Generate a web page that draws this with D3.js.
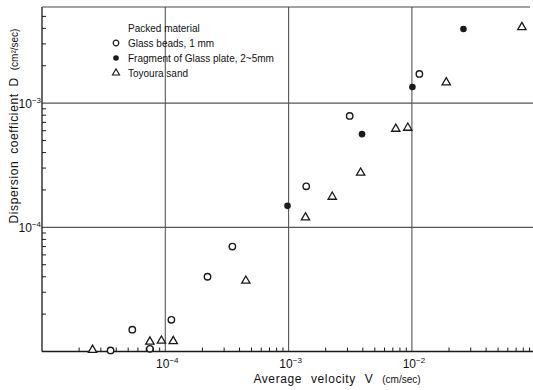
<!DOCTYPE html>
<html>
<head>
<meta charset="utf-8">
<script src="https://cdn.jsdelivr.net/npm/d3@7"></script>
<style>
body { margin: 0; background: #fff; }
text { font-family: "Liberation Sans", Arial, sans-serif; fill: #111; }
</style>
</head>
<body>
<div class="canvas"></div>
<script>
// Glass beads, 1 mm  (open circles)
const beadsV = [3.6e-5, 5.4e-5, 7.5e-5, 1.12e-4, 2.2e-4, 3.5e-4, 1.39e-3, 3.13e-3, 1.15e-2]
const beadsD = [1.02e-5, 1.5e-5, 1.05e-5, 1.8e-5, 4.0e-5, 7.0e-5, 2.14e-4, 7.9e-4, 1.72e-3]

// Fragment of glass plate, 2~5mm  (filled dots)
const plateV = [9.8e-4, 3.94e-3, 1.01e-2, 2.62e-2]
const plateD = [1.49e-4, 5.63e-4, 1.35e-3, 3.96e-3]

// Toyoura sand  (triangles)
const sandV = [2.57e-5, 7.5e-5, 9.3e-5, 1.16e-4, 4.5e-4, 1.37e-3, 2.26e-3, 3.84e-3, 7.4e-3, 9.26e-3, 1.9e-2, 7.8e-2]
const sandD = [1.03e-5, 1.2e-5, 1.22e-5, 1.21e-5, 3.71e-5, 1.2e-4, 1.76e-4, 2.75e-4, 6.21e-4, 6.33e-4, 1.47e-3, 4.09e-3]

const xTicks = [1e-4, 1e-3, 1e-2]
const xTickExp = ["−4", "−3", "−2"]
const yTicks = [1e-4, 1e-3]
const yTickExp = ["−4", "−3"]

const legendTitle = "Packed material"
const legendKeys = ["Glass beads, 1 mm", "Fragment of Glass plate, 2~5mm", "Toyoura sand"]

const svg = d3.select(".canvas")
            .append("svg")
            .attr('width', 533)
            .attr('height', 390)

// plot frame
const plotLeft = 42, plotRight = 533, plotTop = 7, plotBottom = 351.5

const xScale = d3.scaleLog()
    .domain([1e-5, 1e-1])
    .range([42, 535.2])

const yScale = d3.scaleLog()
    .domain([1e-5, 1e-2])
    .range([351.5, -21])

const ink = '#1a1a1a'
const grid = '#555'

// minor ticks, 2..9 of every decade
const minorX = []
for (let e = -5; e < -1; e++) for (let k = 2; k <= 9; k++) minorX.push(k * Math.pow(10, e))
const minorY = []
for (let e = -5; e < -2; e++) for (let k = 2; k <= 9; k++) {
    const v = k * Math.pow(10, e)
    if (yScale(v) > plotTop + 3) minorY.push(v)
}

svg.append('g').selectAll('line').data(minorX.filter(v => xScale(v) < plotRight)).enter()
    .append('line')
    .attr('x1', d => xScale(d)).attr('x2', d => xScale(d))
    .attr('y1', plotBottom).attr('y2', plotBottom - 4)
    .attr('stroke', ink).attr('stroke-width', 1)

svg.append('g').selectAll('line').data(minorY).enter()
    .append('line')
    .attr('x1', plotLeft).attr('x2', plotLeft + 4)
    .attr('y1', d => yScale(d)).attr('y2', d => yScale(d))
    .attr('stroke', ink).attr('stroke-width', 1)

// gridlines at the decades
svg.append('g').selectAll('line').data(xTicks).enter()
    .append('line')
    .attr('x1', d => xScale(d)).attr('x2', d => xScale(d))
    .attr('y1', plotTop).attr('y2', plotBottom)
    .attr('stroke', grid).attr('stroke-width', 1.1)

svg.append('g').selectAll('line').data(yTicks).enter()
    .append('line')
    .attr('x1', plotLeft).attr('x2', plotRight)
    .attr('y1', d => yScale(d)).attr('y2', d => yScale(d))
    .attr('stroke', grid).attr('stroke-width', 1.1)

// frame
svg.append('line').attr('x1', plotLeft).attr('x2', plotLeft).attr('y1', plotTop).attr('y2', plotBottom)
    .attr('stroke', ink).attr('stroke-width', 1.3)
svg.append('line').attr('x1', plotLeft).attr('x2', plotRight).attr('y1', plotBottom).attr('y2', plotBottom)
    .attr('stroke', ink).attr('stroke-width', 1.3)
svg.append('line').attr('x1', plotLeft).attr('x2', 530).attr('y1', plotTop).attr('y2', plotTop)
    .attr('stroke', '#444').attr('stroke-width', 1)

// tick labels
const xl = svg.append('g').selectAll('text').data(xTicks).enter()
    .append('text')
    .attr('x', d => xScale(d) + 2)
    .attr('y', 368)
    .attr('text-anchor', 'middle')
    .attr('font-size', 12)
xl.append('tspan').text('10')
xl.append('tspan').attr('dy', -5).attr('font-size', 8).text((d, i) => xTickExp[i])

const yl = svg.append('g').selectAll('text').data(yTicks).enter()
    .append('text')
    .attr('x', 41)
    .attr('y', d => yScale(d) + 5)
    .attr('text-anchor', 'end')
    .attr('font-size', 12)
yl.append('tspan').text('10')
yl.append('tspan').attr('dy', -5).attr('font-size', 8).text((d, i) => yTickExp[i])

// axis titles
const xTitle = svg.append('text')
    .attr('x', 337).attr('y', 383)
    .attr('text-anchor', 'middle')
    .attr('font-size', 12)
    .attr('letter-spacing', 0.6)
    .attr('word-spacing', 5)
xTitle.append('tspan').text('Average velocity V ')
xTitle.append('tspan').attr('font-size', 10).attr('letter-spacing', 0).text('(cm/sec)')

const yTitle = svg.append('text')
    .attr('transform', 'translate(18,126) rotate(-90)')
    .attr('text-anchor', 'middle')
    .attr('font-size', 12)
    .attr('letter-spacing', 0.6)
    .attr('word-spacing', 3)
yTitle.append('tspan').text('Dispersion coefficient D ')
yTitle.append('tspan').attr('font-size', 10).attr('letter-spacing', 0).text('(cm²/sec)')

// data marks
const zip = (a, b) => a.map((v, i) => ({v: v, d: b[i]}))

svg.append('g').selectAll('circle').data(zip(beadsV, beadsD)).enter()
    .append('circle')
    .attr('cx', p => xScale(p.v)).attr('cy', p => yScale(p.d))
    .attr('r', 3.2)
    .attr('fill', '#fff').attr('stroke', ink).attr('stroke-width', 1.4)

svg.append('g').selectAll('circle').data(zip(plateV, plateD)).enter()
    .append('circle')
    .attr('cx', p => xScale(p.v)).attr('cy', p => yScale(p.d))
    .attr('r', 3.3)
    .attr('fill', ink)

const tri = d3.symbol().type(d3.symbolTriangle).size(30)
svg.append('g').selectAll('path').data(zip(sandV, sandD)).enter()
    .append('path')
    .attr('d', tri)
    .attr('transform', p => `translate(${xScale(p.v)},${yScale(p.d)})`)
    .attr('fill', '#fff').attr('stroke', ink).attr('stroke-width', 1.3)

// legend
svg.append('text').attr('x', 128).attr('y', 32).attr('font-size', 10).text(legendTitle)

const lg = svg.selectAll('.lineLegend').data(legendKeys).enter()
    .append('g')
    .attr('class', 'lineLegend')
    .attr('transform', (d, i) => `translate(116,${43 + i * 15})`)

lg.append('text').attr('x', 12).attr('y', 3.5).attr('font-size', 10).text(d => d)
lg.filter((d, i) => i == 0).append('circle').attr('r', 2.8)
    .attr('fill', '#fff').attr('stroke', ink).attr('stroke-width', 1.2)
lg.filter((d, i) => i == 1).append('circle').attr('r', 2.8).attr('fill', ink)
lg.filter((d, i) => i == 2).append('path').attr('d', d3.symbol().type(d3.symbolTriangle).size(22))
    .attr('fill', '#fff').attr('stroke', ink).attr('stroke-width', 1.1)
</script>
</body>
</html>
